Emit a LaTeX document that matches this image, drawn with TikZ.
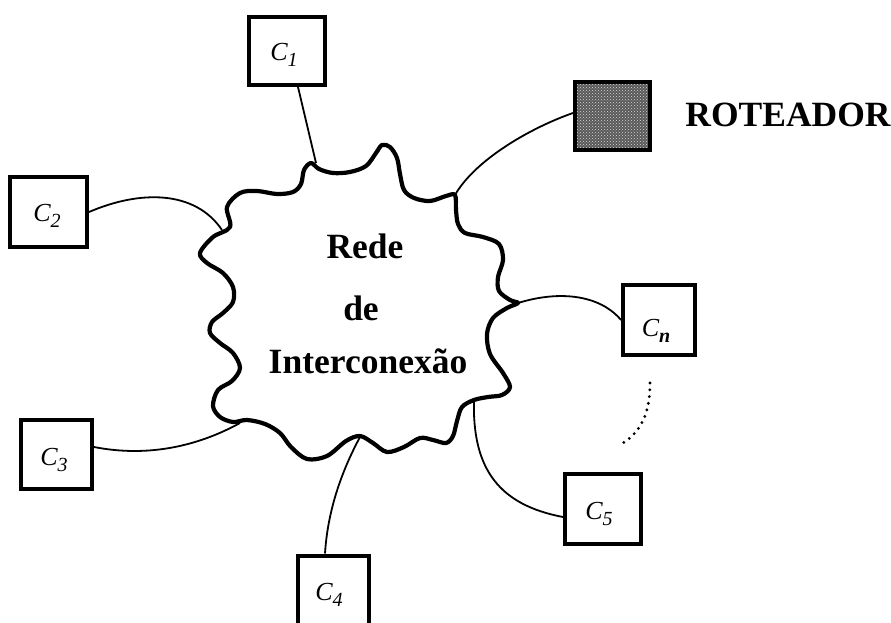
\documentclass[tikz,border=0pt]{standalone}
\usepackage{fontspec}
\setmainfont{Liberation Serif}
\usetikzlibrary{patterns}

% italic "C" with a lowered italic index
\newcommand{\clab}[1]{{\fontsize{26}{26}\selectfont\itshape C}\raisebox{-5.5pt}{\fontsize{20}{20}\selectfont\itshape #1}}

\tikzset{
  cbox/.style={draw, line width=4pt, minimum width=#1, inner sep=0pt},
  link/.style={line width=1.8pt},
  cloudline/.style={line width=4.2pt, line join=round},
  bigtext/.style={font=\fontsize{35.5}{40}\selectfont\bfseries, inner sep=0pt, anchor=base},
  lab/.style={inner sep=0pt}
}

\begin{document}
\begin{tikzpicture}[x=1pt, y=-1pt]
\useasboundingbox (0,0) rectangle (891,623);

% computers and router
\node[cbox=76pt, minimum height=68pt] (c1) at (287,51) {};
\node[cbox=77pt, minimum height=70pt] (c2) at (48.5,212) {};
\node[cbox=72pt, minimum height=70pt] (cn) at (659,320) {};
\node[cbox=71pt, minimum height=69pt] (c3) at (56.5,454.5) {};
\node[cbox=71pt, minimum height=69pt] (c4) at (333.5,590) {};
\node[cbox=76pt, minimum height=70pt] (c5) at (603,509) {};
\node[cbox=75pt, minimum height=68pt, fill=black!65] (r) at (612.5,116) {};
\fill[pattern=crosshatch dots, pattern color=white!85!black] ([xshift=2pt,yshift=-2pt]r.north west) rectangle ([xshift=-2pt,yshift=2pt]r.south east);
\node[cbox=75pt, minimum height=68pt] at (r) {};

\node[lab] (t1) at (284,55) {\clab{1}};
\node[lab] (t2) at (47,216) {\clab{2}};
\node[lab] (tn) at (656,331) {\clab{\textbf{n}}};
\node[lab] (t3) at (54,460) {\clab{3}};
\node[lab] (t4) at (329,595) {\clab{4}};
\node[lab] (t5) at (599,514) {\clab{5}};

\node[bigtext] (rt) at (788,127) {ROTEADOR};

% interconnection network outline
\draw[cloudline] plot[smooth cycle, tension=0.55] coordinates {
 (200,253)(213,237)(230,227)(227,207)(240,193)(257,191)(277,194)(293,192)
 (301,184)(304,170)(311,163)(319,169)(333,173)(350,172)(366,166)(376,153)
 (382,145)(390,147)(397,158)(400,174)(404,190)(414,198)(430,201)(446,196)
 (455,195)(456,210)(458,224)(465,233)(483,237)(499,244)(503,260)(498,277)
 (499,291)(510,300)(518,303)(507,308)(493,318)(487,334)(490,354)(503,373)
 (510,387)(502,395)(488,397)(474,400)(462,407)(457,421)(453,436)(446,443)
 (433,440)(420,438)(404,447)(387,452)(373,443)(360,436)(346,441)(327,456)
 (307,459)(291,447)(280,433)(265,424)(247,420)(233,422)(220,417)(213,406)
 (218,390)(232,381)(240,368)(233,353)(220,343)(210,333)(212,322)(223,313)
 (233,302)(233,287)(223,273)(207,263)};

\node[bigtext] (l1) at (365,258) {Rede};
\node[bigtext] (l2) at (361,320) {de};
\node[bigtext] (l3) at (368,373) {Interconexão};

% attachment points on the network outline
\coordinate (p1) at (316,163);
\coordinate (pr) at (455,195);
\coordinate (p2) at (222,230);
\coordinate (p3) at (240,423);
\coordinate (p4) at (360,437);
\coordinate (p5) at (474,400);
\coordinate (pn) at (518,303);

% links
\draw[link] ([xshift=11pt]c1.south) -- (p1);
\draw[link] ([yshift=3pt]r.west) .. controls (530,128) and (475,160) .. (pr);
\draw[link] (c2.east) .. controls (140,190) and (195,190) .. (p2);
\draw[link] ([yshift=7.5pt]c3.east) .. controls (150,458) and (200,445) .. (p3);
\draw[link] ([xshift=-8.5pt]c4.north) .. controls (328,505) and (345,465) .. (p4);
\draw[link] (p5) .. controls (472,470) and (500,505) .. ([yshift=-8pt]c5.west);
\draw[link] (pn) .. controls (560,290) and (600,295) .. (cn.west);

% ellipsis between C5 and Cn
\coordinate (d1) at (650,383);
\coordinate (d2) at (623,443);
\draw[line width=3.2pt, line cap=round, dash pattern=on 0pt off 6.8pt] (d1) .. controls (650,415) and (640,432) .. (d2);
\end{tikzpicture}
\end{document}
